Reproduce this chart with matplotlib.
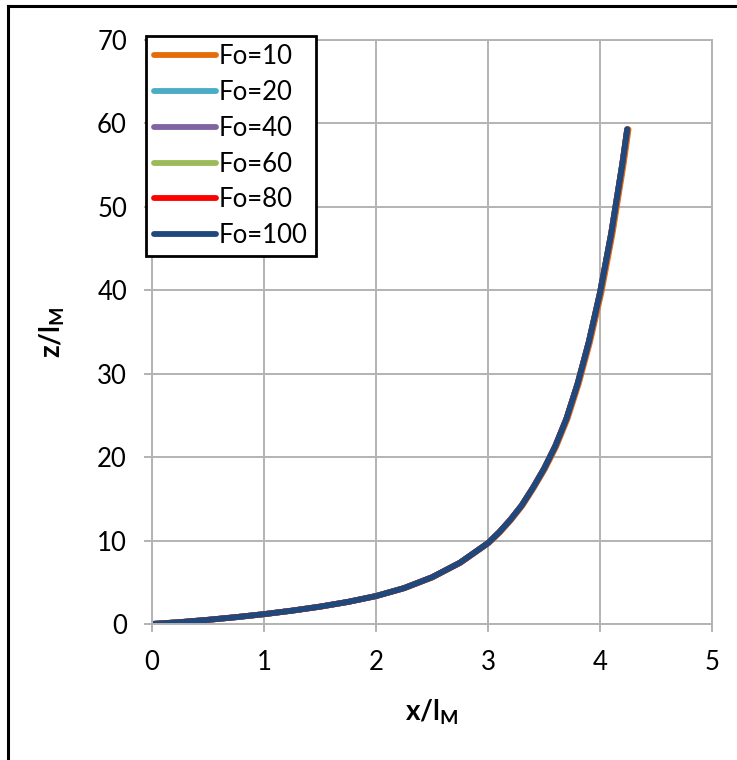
import matplotlib
matplotlib.use("Agg")
import matplotlib.pyplot as plt
from matplotlib.lines import Line2D

plt.rcParams['font.family'] = ['Lato', 'DejaVu Sans']
plt.rcParams['mathtext.fontset'] = 'custom'
plt.rcParams['mathtext.rm'] = 'Lato'
plt.rcParams['mathtext.bf'] = 'Lato:bold'

# ---- data ----
z_vals = [0, 0.22, 0.5, 0.82, 1.18, 1.6, 2.08, 2.65, 3.35, 4.3, 5.6, 7.35, 9.7,
          11.0, 12.5, 14.2, 16.3, 18.6, 21.3, 24.6, 28.8, 33.8, 39.7, 46.8, 55.2, 59.3]
x_fo10 = [0, 0.253, 0.503, 0.753, 1.003, 1.253, 1.503, 1.753, 2.004, 2.256, 2.506, 2.756, 3.006,
          3.108, 3.208, 3.308, 3.408, 3.509, 3.61, 3.71, 3.81, 3.911, 4.012, 4.112, 4.212, 4.255]
x_fo20 = [0, 0.25, 0.5, 0.75, 1.0, 1.25, 1.5, 1.75, 2.0, 2.25, 2.5, 2.75, 3.0,
          3.1, 3.2, 3.3, 3.4, 3.5, 3.6, 3.7, 3.8, 3.9, 4.0, 4.1, 4.2, 4.243]
x_fo40 = [0, 0.25, 0.5, 0.75, 1.0, 1.25, 1.5, 1.75, 2.0, 2.25, 2.5, 2.75, 3.0,
          3.1, 3.2, 3.3, 3.4, 3.5, 3.6, 3.7, 3.8, 3.9, 4.0, 4.1, 4.2, 4.243]
x_fo60 = [0, 0.25, 0.5, 0.75, 1.0, 1.25, 1.5, 1.75, 2.0, 2.25, 2.5, 2.75, 3.0,
          3.1, 3.2, 3.3, 3.4, 3.5, 3.6, 3.7, 3.8, 3.9, 4.0, 4.1, 4.2, 4.243]
x_fo80 = [0, 0.25, 0.5, 0.75, 1.0, 1.25, 1.5, 1.75, 2.0, 2.25, 2.5, 2.75, 3.0,
          3.1, 3.2, 3.3, 3.4, 3.5, 3.6, 3.7, 3.8, 3.9, 4.0, 4.1, 4.2, 4.243]
x_fo100 = [0, 0.25, 0.5, 0.75, 1.0, 1.25, 1.5, 1.75, 2.0, 2.25, 2.5, 2.75, 3.0,
           3.1, 3.2, 3.3, 3.4, 3.5, 3.6, 3.7, 3.8, 3.9, 4.0, 4.1, 4.2, 4.243]

series_labels = ['Fo=10', 'Fo=20', 'Fo=40', 'Fo=60', 'Fo=80', 'Fo=100']
series_x = [x_fo10, x_fo20, x_fo40, x_fo60, x_fo80, x_fo100]
series_colors = ['#E46C0A', '#4BACC6', '#8064A2', '#9BBB59', '#FF0000', '#1F497D']

x_ticks = [0, 1, 2, 3, 4, 5]
y_ticks = [0, 10, 20, 30, 40, 50, 60, 70]

# ---- figure ----
fig = plt.figure(figsize=(7.37, 7.60), dpi=100)
ax = fig.add_axes([152/737, 1-624/760, 560/737, 584/760])

for xs, lab, col in zip(series_x, series_labels, series_colors):
    ax.plot(xs, z_vals, color=col, lw=4.2, label=lab,
            solid_capstyle='round', solid_joinstyle='round')

ax.set_xlim(0, 5)
ax.set_ylim(0, 70)
ax.set_xticks(x_ticks)
ax.set_yticks(y_ticks)
grid_col = '#b3b3b3'
ax.grid(True, color=grid_col, lw=1.4)
ax.set_axisbelow(True)
for s in ax.spines.values():
    s.set_color(grid_col)
    s.set_linewidth(1.4)
ax.tick_params(axis='both', colors=grid_col, length=6, width=1.4, labelsize=18.5,
               labelcolor='black')
ax.tick_params(axis='x', pad=13)
ax.tick_params(axis='y', pad=12)

ax.set_xlabel(r'$\mathbf{x/l}_{\mathbf{M}}$', fontsize=20, labelpad=16)
ax.set_ylabel(r'$\mathbf{z/l}_{\mathbf{M}}$', fontsize=20, labelpad=22)

leg = ax.legend(loc='upper left', bbox_to_anchor=(-0.011, 1.006), borderaxespad=0,
                fontsize=18.5, frameon=True, fancybox=False, shadow=False,
                handlelength=2.45, handletextpad=0.1, labelspacing=0.42,
                borderpad=0.3, framealpha=1)
leg.get_frame().set_edgecolor('black')
leg.get_frame().set_linewidth(2.0)

# figure border (top and left)
fig.add_artist(Line2D([8/737, 8/737], [0, 1-6/760], transform=fig.transFigure, color='black', lw=2.2))
fig.add_artist(Line2D([8/737, 1], [1-6/760, 1-6/760], transform=fig.transFigure, color='black', lw=2.2))

fig.savefig('out.png', dpi=100)
